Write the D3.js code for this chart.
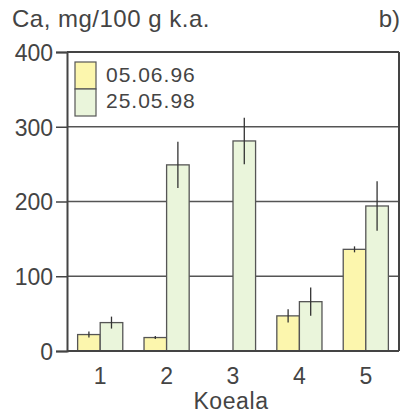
<!DOCTYPE html>
<html><head><meta charset="utf-8">
<script src="https://cdn.jsdelivr.net/npm/d3@7"></script>
<style>body{margin:0;background:#fff}svg{display:block}text{font-family:"Liberation Sans",Arial,sans-serif;fill:#444}</style>
</head><body>
<svg id="c" width="409" height="416"></svg>
<script>
const categories = ["1","2","3","4","5"];
const seriesNames = ["05.06.96","25.05.98"];
const values1996 = [22, 18, null, 47, 136];
const errors1996 = [4, 2, null, 9, 4];
const values1998 = [38, 249, 281, 66, 194];
const errors1998 = [8, 31, 31, 19, 33];
const yTicks = [0,100,200,300,400];
const colors = ["#fcf6ad","#eaf5db"];

const svg = d3.select("#c");
const L=67, R=399, T=52, B=351;
const x = d3.scaleBand().domain(categories).range([L,R]).paddingInner(0.32).paddingOuter(0.16);
const xs = d3.scaleBand().domain([0,1]).range([0,x.bandwidth()]);
const y = d3.scaleLinear().domain([0,400]).range([B,T]);

// grid
svg.append("g").selectAll("line").data([100,200,300]).join("line")
  .attr("x1",L).attr("x2",R).attr("y1",d=>y(d)).attr("y2",d=>y(d))
  .attr("stroke","#555").attr("stroke-width",1.4);

const series=[values1996,values1998], errs=[errors1996,errors1998];
series.forEach((vals,si)=>{
  const data = categories.map((c,i)=>({c,v:vals[i],e:errs[si][i]})).filter(d=>d.v!=null);
  svg.append("g").selectAll("rect").data(data).join("rect")
    .attr("x",d=>x(d.c)+xs(si)).attr("width",xs.bandwidth())
    .attr("y",d=>y(d.v)).attr("height",d=>y(0)-y(d.v))
    .attr("fill",colors[si]).attr("stroke","#555").attr("stroke-width",1.3);
  svg.append("g").selectAll("line").data(data).join("line")
    .attr("x1",d=>x(d.c)+xs(si)+xs.bandwidth()/2).attr("x2",d=>x(d.c)+xs(si)+xs.bandwidth()/2)
    .attr("y1",d=>y(d.v+d.e)).attr("y2",d=>y(d.v-d.e))
    .attr("stroke","#333").attr("stroke-width",1.3);
});

// frame top & right
svg.append("line").attr("x1",L).attr("x2",R).attr("y1",T).attr("y2",T).attr("stroke","#444").attr("stroke-width",2);
svg.append("line").attr("x1",R).attr("x2",R).attr("y1",T).attr("y2",B).attr("stroke","#444").attr("stroke-width",2);

// y axis
const ya = svg.append("g").attr("transform",`translate(${L},0)`)
  .call(d3.axisLeft(y).tickValues(yTicks).tickSize(11).tickPadding(3));
ya.select(".domain").attr("stroke","#444").attr("stroke-width",2);
ya.selectAll(".tick line").attr("stroke","#444").attr("stroke-width",1.5);
ya.selectAll(".tick text").attr("font-size",23).style("fill","#444").attr("dy","0.36em");

// x axis
const xa = svg.append("g").attr("transform",`translate(0,${B})`)
  .call(d3.axisBottom(x).tickSize(0).tickPadding(17));
xa.select(".domain").attr("stroke","#444").attr("stroke-width",2).attr("d",`M${L},0H${R}`);
xa.selectAll(".tick text").attr("font-size",23).style("fill","#444");

svg.append("text").attr("x",231).attr("y",409).attr("text-anchor","middle").attr("font-size",23).style("letter-spacing","0.6px").text("Koeala");
svg.append("text").attr("x",12).attr("y",27).attr("font-size",24).style("letter-spacing","0.5px").text("Ca, mg/100 g k.a.");
svg.append("text").attr("x",400).attr("y",27).attr("text-anchor","end").attr("font-size",24).text("b)");

// legend
const lg = svg.append("g");
seriesNames.forEach((n,i)=>{
  lg.append("rect").attr("x",75).attr("y",62+i*27).attr("width",21).attr("height",27)
    .attr("fill",colors[i]).attr("stroke","#555").attr("stroke-width",1.2);
  lg.append("text").attr("x",106).attr("y",82+i*26).attr("font-size",21).style("letter-spacing","1px").text(n);
});
</script>
</body></html>
